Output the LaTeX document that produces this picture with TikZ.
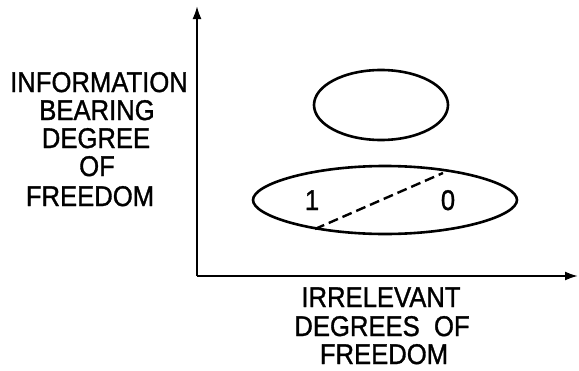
\documentclass[tikz,border=0pt]{standalone}
\usepackage{fontspec}
\setmainfont{Liberation Sans}
\newfontfamily\labfont{Liberation Sans}[RawFeature={embolden=1.2}]
\usetikzlibrary{arrows.meta}
\newcommand{\cnd}[1]{\scalebox{0.9}[1]{#1}}
\tikzset{
  lab/.style={anchor=base, inner sep=0pt, font=\labfont\fontsize{28.5}{28.5}\selectfont},
  axis/.style={line width=2pt, -{Latex[length=13pt,width=9pt]}},
  ring/.style={line width=2.6pt},
}
\begin{document}
\begin{tikzpicture}[x=1pt,y=-1pt]
\useasboundingbox (0,0) rectangle (579,370);
\coordinate (O) at (197,276);
\coordinate (ytip) at (197,6);
\coordinate (xtip) at (578,276);
\draw[axis] (O) -- (ytip);
\draw[axis] (O) -- (xtip);
% upper ellipse
\draw[ring] (381,105) ellipse [x radius=67, y radius=35];
% lower lens
\draw[ring] (253,200) .. controls (253,184) and (312,166) .. (385,166)
  .. controls (458,166) and (517,184) .. (517,200)
  .. controls (517,216) and (458,234) .. (385,234)
  .. controls (312,234) and (253,216) .. (253,200) -- cycle;
\coordinate (da) at (315,229);
\coordinate (db) at (443,173);
\draw[line width=2.4pt, dash pattern=on 10pt off 5pt] (da) -- (db);
\node[lab] (one) at (312,210) {\cnd{1}};
\node[lab] (zero) at (448,210) {\cnd{0}};
% left label
\node[lab] (l1) at (99,92) {\cnd{INFORMATION}};
\node[lab] (l2) at (97,120) {\cnd{BEARING}};
\node[lab] (l3) at (96,148) {\cnd{DEGREE}};
\node[lab] (l4) at (97,176) {\cnd{OF}};
\node[lab] (l5) at (90,206) {\cnd{FREEDOM}};
% bottom label
\node[lab] (b1) at (381,307) {\cnd{IRRELEVANT}};
\node[lab] (b2) at (382,336) {\cnd{DEGREES\ \ OF}};
\node[lab] (b3) at (384,364) {\cnd{FREEDOM}};
\end{tikzpicture}
\end{document}
